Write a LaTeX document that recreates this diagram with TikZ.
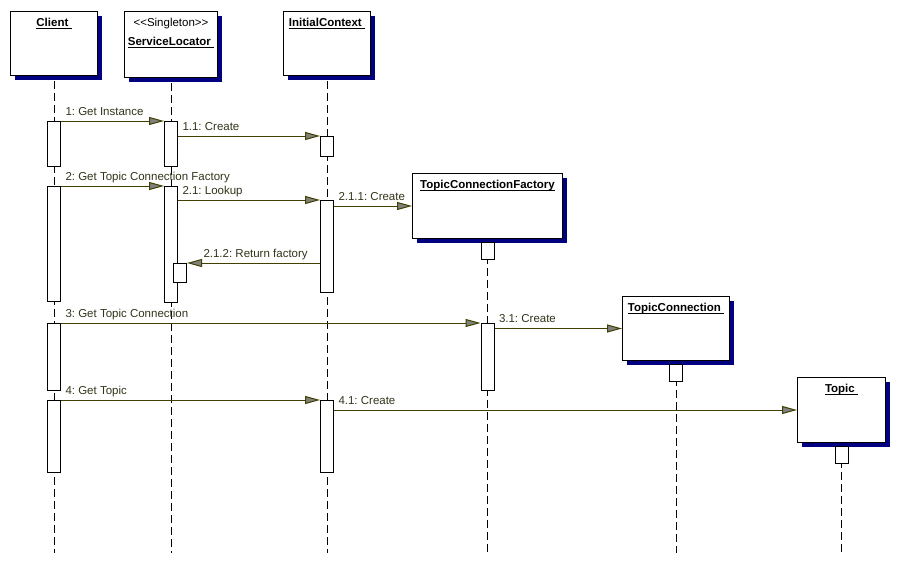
\documentclass[tikz,border=0pt]{standalone}
\usepackage{fontspec}
\setmainfont{Liberation Sans}[Ligatures=TeXOff]
\usepackage{tikz}
\usetikzlibrary{arrows.meta,shadows}
\definecolor{msgline}{HTML}{404000}
\definecolor{msgtext}{HTML}{33331A}
\definecolor{boxshadow}{HTML}{000080}
\newcommand{\sz}{\fontsize{11.5}{14}\selectfont\frenchspacing}
\newcommand{\objname}[1]{\underline{\raisebox{0pt}[\height][0pt]{#1}}}

\begin{document}
\begin{tikzpicture}[x=1pt, y=-1pt, font=\sz,
	obj/.style={draw, line width=1pt, fill=white, anchor=north west, inner sep=0pt,
		drop shadow={shadow xshift=4pt, shadow yshift=-4pt, fill=boxshadow, opacity=1}},
	title/.style={anchor=north, yshift=-7pt, font=\sz\bfseries, inner sep=0pt, align=center},
	act/.style={draw, line width=1pt, fill=white, anchor=north, minimum width=13pt, inner sep=0pt},
	life/.style={line width=1pt, dash pattern=on 8pt off 4pt},
	msg/.style={draw=msgline, line width=1pt, -{Triangle[length=15pt, width=8pt, fill=gray]}},
	lbl/.style={text=msgtext, inner sep=0pt, anchor=base west, xshift=4pt, yshift=6pt}]
	\useasboundingbox (0,0) rectangle (897,562);
	\coordinate (bottom) at (0,553);
	\node[obj, minimum width=87pt, minimum height=64pt] (client) at (10,11) {};
	\node[obj, minimum width=93pt, minimum height=66pt] (locator) at (124,11) {};
	\node[obj, minimum width=87pt, minimum height=64pt] (context) at (283,11) {};
	\node[obj, minimum width=150pt, minimum height=65pt] (factory) at (412,173) {};
	\node[obj, minimum width=107pt, minimum height=64pt] (connection) at (622,296) {};
	\node[obj, minimum width=88pt, minimum height=65pt] (topic) at (797,377) {};
	\node[title] (clientT) at (client.north) {\objname{Client\ }};
	\node[title, font=\sz] (locatorT) at (locator.north) {\textless\textless Singleton\textgreater\textgreater\\[5pt] \bfseries\objname{ServiceLocator\ }};
	\node[title] (contextT) at (context.north) {\objname{InitialContext\ }};
	\node[title] (factoryT) at (factory.north) {\objname{TopicConnectionFactory}};
	\node[title] (connectionT) at (connection.north) {\objname{TopicConnection\ }};
	\node[title] (topicT) at (topic.north) {\objname{Topic\ }};
	\foreach \obj in {client, locator, context, factory, connection, topic}
		\draw[life] ([yshift=-5pt]\obj.south) -- (\obj.south |- bottom);
	\node[act, minimum height=45pt] (clientA) at (client.south |- 0,121) {};
	\node[act, minimum height=115pt] (clientB) at (client.south |- 0,186) {};
	\node[act, minimum height=67pt] (clientC) at (client.south |- 0,323) {};
	\node[act, minimum height=72pt] (clientD) at (client.south |- 0,400) {};
	\node[act, minimum height=45pt] (locatorA) at (locator.south |- 0,121) {};
	\node[act, minimum height=116pt] (locatorB) at (locator.south |- 0,186) {};
	\node[act, minimum height=19pt] (locatorC) at ([xshift=9pt]locator.south |- 0,263) {};
	\node[act, minimum height=20pt] (contextA) at (context.south |- 0,136) {};
	\node[act, minimum height=92pt] (contextB) at (context.south |- 0,200) {};
	\node[act, minimum height=72pt] (contextC) at (context.south |- 0,400) {};
	\node[act, minimum height=17pt] (factoryA) at ([yshift=-3pt]factory.south) {};
	\node[act, minimum height=67pt] (factoryB) at (factory.south |- 0,323) {};
	\node[act, minimum height=17pt] (connectionA) at ([yshift=-3pt]connection.south) {};
	\node[act, minimum height=17pt] (topicA) at ([yshift=-3pt]topic.south) {};
	\draw[msg] (clientA.north east) -- node[lbl, pos=0] {1: Get Instance} (locatorA.north west);
	\draw[msg] (locatorA.east |- contextA.north) -- node[lbl, pos=0] {1.1: Create} (contextA.north west);
	\draw[msg] (clientB.north east) -- node[lbl, pos=0] {2: Get Topic Connection Factory} (locatorB.north west);
	\draw[msg] (locatorB.east |- contextB.north) -- node[lbl, pos=0] {2.1: Lookup} (contextB.north west);
	\draw[msg] (contextB.east |- factory.west) -- node[lbl, pos=0] {2.1.1: Create} (factory.west);
	\draw[msg] (contextB.west |- locatorC.north) -- node[lbl, pos=1, xshift=12pt] {2.1.2: Return factory} (locatorC.north east);
	\draw[msg] (clientC.north east) -- node[lbl, pos=0] {3: Get Topic Connection} (factoryB.north west);
	\draw[msg] (factoryB.east |- connection.west) -- node[lbl, pos=0] {3.1: Create} (connection.west);
	\draw[msg] (clientD.north east) -- node[lbl, pos=0] {4: Get Topic} (contextC.north west);
	\draw[msg] (contextC.east |- topic.west) -- node[lbl, pos=0] {4.1: Create} (topic.west);
\end{tikzpicture}
\end{document}
